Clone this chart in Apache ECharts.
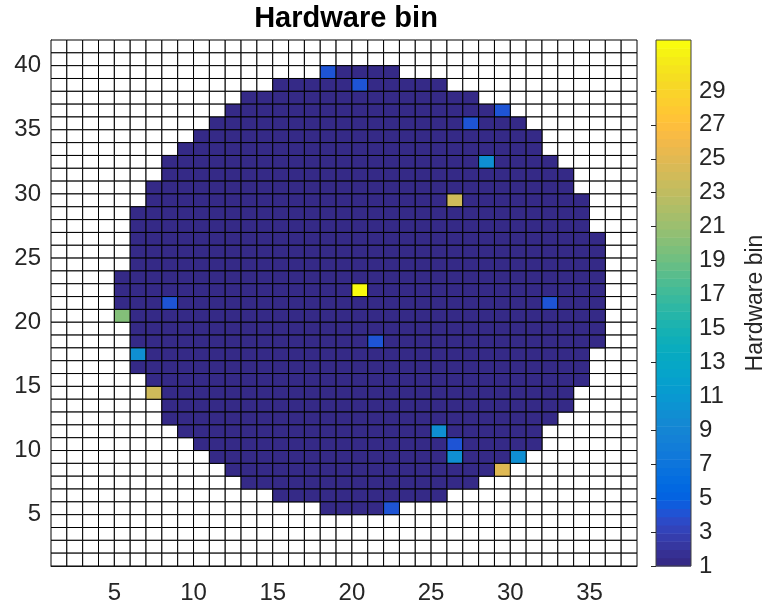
<!DOCTYPE html>
<html>
<head>
<meta charset="utf-8">
<script src="https://cdn.jsdelivr.net/npm/echarts@6/dist/echarts.min.js"></script>
<style>
  html, body { margin: 0; padding: 0; background: #fff; }
  #chart { width: 768px; height: 610px; }
</style>
</head>
<body>
<div id="chart"></div>
<script>
// Wafer die map, top row first (y = 41 down to y = 1), columns x = 1..37.
// '.' = no die; any other character is the hardware bin in base 36
// (1 = bin 1, 4 = bin 4, a = bin 10, k = bin 20, o = bin 24, p = bin 25, w = bin 32).
// '|' only groups the columns in tens for readability.
const waferRows = [
  "..........|..........|..........|.......", // 41
  "..........|..........|..........|.......", // 40
  "..........|.......411|11........|.......", // 39
  "..........|....111114|11111.....|.......", // 38
  "..........|..11111111|1111111...|.......", // 37
  "..........|.111111111|111111114.|.......", // 36
  "..........|1111111111|1111114111|.......", // 35
  ".........1|1111111111|1111111111|1......", // 34
  "........11|1111111111|1111111111|1......", // 33
  ".......111|1111111111|1111111a11|11.....", // 32
  ".......111|1111111111|1111111111|111....", // 31
  "......1111|1111111111|1111111111|111....", // 30
  "......1111|1111111111|11111o1111|1111...", // 29
  ".....11111|1111111111|1111111111|1111...", // 28
  ".....11111|1111111111|1111111111|1111...", // 27
  ".....11111|1111111111|1111111111|11111..", // 26
  ".....11111|1111111111|1111111111|11111..", // 25
  ".....11111|1111111111|1111111111|11111..", // 24
  "....111111|1111111111|1111111111|11111..", // 23
  "....111111|111111111w|1111111111|11111..", // 22
  "....111411|1111111111|1111111111|14111..", // 21
  "....k11111|1111111111|1111111111|11111..", // 20
  ".....11111|1111111111|1111111111|11111..", // 19
  ".....11111|1111111111|4111111111|11111..", // 18
  ".....a1111|1111111111|1111111111|1111...", // 17
  ".....11111|1111111111|1111111111|1111...", // 16
  "......1111|1111111111|1111111111|1111...", // 15
  "......o111|1111111111|1111111111|111....", // 14
  ".......111|1111111111|1111111111|111....", // 13
  ".......111|1111111111|1111111111|11.....", // 12
  "........11|1111111111|1111a11111|1......", // 11
  ".........1|1111111111|1111141111|1......", // 10
  "..........|1111111111|11111a111a|.......", // 9
  "..........|.111111111|11111111p.|.......", // 8
  "..........|..11111111|1111111...|.......", // 7
  "..........|....111111|11111.....|.......", // 6
  "..........|.......111|14........|.......", // 5
  "..........|..........|..........|.......", // 4
  "..........|..........|..........|.......", // 3
  "..........|..........|..........|.......", // 2
  "..........|..........|..........|......."  // 1
];

const xTicks = [5, 10, 15, 20, 25, 30, 35];
const yTicks = [5, 10, 15, 20, 25, 30, 35, 40];
const binTicks = [1, 3, 5, 7, 9, 11, 13, 15, 17, 19, 21, 23, 25, 27, 29];
const binMin = 1;
const binMax = 32;

// parula, 64 levels
const parula = [
  '#352a87','#363093','#3637a0','#353dad','#3243ba','#2c4ac7','#2053d4','#0f5cdd',
  '#0363e1','#0268e1','#046de0','#0871de','#0d75dc','#1079da','#127dd8','#1481d6',
  '#1485d4','#1389d3','#108ed2','#0c93d2','#0998d1','#079ccf','#06a0cd','#06a4ca',
  '#06a7c6','#07a9c2','#0aacbe','#0faeb9','#15b1b4','#1db3af','#25b5a9','#2eb7a4',
  '#38b99e','#42bb98','#4dbc92','#59bd8c','#65be86','#71bf80','#7cbf7b','#87bf77',
  '#92bf73','#9cbf6f','#a5be6b','#aebe67','#b7bd64','#c0bc60','#c8bc5d','#d1bb59',
  '#d9ba56','#e1b952','#e9b94e','#f1b94a','#f8bb44','#fdbe3d','#ffc337','#fec832',
  '#fcce2e','#fad32a','#f7d826','#f5de21','#f5e41d','#f5eb18','#f6f313','#f9fb0e'
];

const nCols = 37;
const nRows = waferRows.length;

const dies = [];
const blanks = [];
waferRows.forEach((row, k) => {
  const y = nRows - k;
  const cells = row.replace(/\|/g, '');
  for (let i = 0; i < cells.length; i++) {
    const x = i + 1;
    const ch = cells[i];
    if (ch === '.') blanks.push([x, y]);
    else dies.push([x, y, parseInt(ch, 36)]);
  }
});

const textColor = '#262626';
const fontFamily = '"Liberation Sans", Arial, Helvetica, sans-serif';

// one pcolor-style cell spanning [x, x+1] x [y, y+1]
function cellItem(fill) {
  return function (params, api) {
    const x = api.value(0), y = api.value(1);
    const p0 = api.coord([x, y + 1]);
    const p1 = api.coord([x + 1, y]);
    return {
      type: 'rect',
      shape: { x: p0[0], y: p0[1], width: p1[0] - p0[0], height: p1[1] - p0[1] },
      style: { fill: fill || api.visual('color'), stroke: '#000', lineWidth: 1 }
    };
  };
}

const bandStep = (binMax - binMin) / parula.length;

const chart = echarts.init(document.getElementById('chart'), null, { renderer: 'canvas' });
chart.setOption({
  animation: false,
  backgroundColor: '#fff',
  title: {
    text: 'Hardware bin',
    left: 341,
    top: -1,
    textAlign: 'center',
    textStyle: { fontFamily, fontSize: 29, fontWeight: 'bold', color: '#000' }
  },
  grid: [
    { left: 51, top: 40, width: 586, height: 526 },
    { left: 656, top: 40, width: 42, height: 526 }
  ],
  xAxis: [
    {
      type: 'value', gridIndex: 0, min: 1, max: nCols + 1,
      splitLine: { show: false },
      axisLine: { show: true, lineStyle: { color: textColor } },
      axisTick: { customValues: xTicks, inside: true, length: 5, lineStyle: { color: textColor } },
      axisLabel: { customValues: xTicks, fontSize: 24, color: textColor, fontFamily, margin: 15 }
    },
    { type: 'value', gridIndex: 1, min: 0, max: 1, show: false }
  ],
  yAxis: [
    {
      type: 'value', gridIndex: 0, min: 1, max: nRows + 1,
      splitLine: { show: false },
      axisLine: { show: true, lineStyle: { color: textColor } },
      axisTick: { customValues: yTicks, inside: true, length: 5, lineStyle: { color: textColor } },
      axisLabel: { customValues: yTicks, fontSize: 24, color: textColor, fontFamily, margin: 10 }
    },
    {
      type: 'value', gridIndex: 1, min: binMin, max: binMax, position: 'right', z: 10,
      splitLine: { show: false },
      axisLine: { show: false },
      axisTick: { customValues: binTicks, inside: true, length: 5, lineStyle: { color: textColor } },
      axisLabel: { customValues: binTicks, fontSize: 24, color: textColor, fontFamily, margin: 8 },
      name: 'Hardware bin',
      nameLocation: 'middle',
      nameRotate: 90,
      nameGap: 53,
      nameTextStyle: { fontSize: 23, color: textColor, fontFamily }
    }
  ],
  visualMap: {
    type: 'continuous',
    show: false,
    min: binMin,
    max: binMax,
    dimension: 2,
    seriesIndex: 1,
    inRange: { color: parula }
  },
  series: [
    {
      name: 'no die',
      type: 'custom',
      xAxisIndex: 0, yAxisIndex: 0,
      renderItem: cellItem('#ffffff'),
      data: blanks
    },
    {
      name: 'bin',
      type: 'custom',
      xAxisIndex: 0, yAxisIndex: 0,
      renderItem: cellItem(null),
      encode: { x: 0, y: 1 },
      data: dies
    },
    {
      name: 'colorbar',
      type: 'custom',
      xAxisIndex: 1, yAxisIndex: 1,
      renderItem: function (params, api) {
        const k = api.value(0);
        const p0 = api.coord([0, binMin + (k + 1) * bandStep]);
        const p1 = api.coord([1, binMin + k * bandStep]);
        return {
          type: 'rect',
          shape: { x: p0[0], y: p0[1], width: p1[0] - p0[0], height: p1[1] - p0[1] + 0.5 },
          style: { fill: parula[k] }
        };
      },
      data: parula.map((c, k) => [k])
    },
    {
      name: 'colorbar frame',
      type: 'custom',
      xAxisIndex: 1, yAxisIndex: 1,
      z: 5,
      renderItem: function (params, api) {
        const p0 = api.coord([0, binMax]);
        const p1 = api.coord([1, binMin]);
        return {
          type: 'rect',
          shape: { x: p0[0], y: p0[1], width: p1[0] - p0[0], height: p1[1] - p0[1] },
          style: { fill: 'none', stroke: '#404040', lineWidth: 1 }
        };
      },
      data: [[0]]
    }
  ]
});
</script>
</body>
</html>
